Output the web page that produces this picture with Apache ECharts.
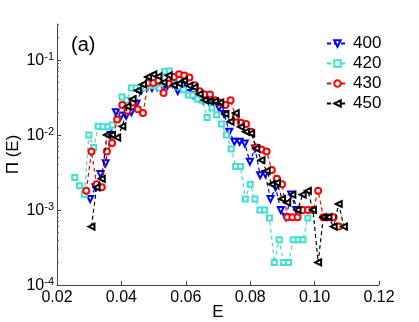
<!DOCTYPE html>
<html><head><meta charset="utf-8">
<script src="https://cdn.jsdelivr.net/npm/echarts@6/dist/echarts.min.js"></script>
<style>html,body{margin:0;padding:0;background:#fff}#c{width:419px;height:322px}</style>
</head><body><div id="c"></div>
<script>
const seriesNames = ['400', '420', '430', '450'];

const x400 = [0.0303,0.0319,0.0335,0.0351,0.0367,0.0383,0.0399,0.0415,0.0431,0.0447,0.0463,0.0479,0.0495,0.0511,0.0527,0.0543,0.0559,0.0575,0.0591,0.0607,0.0623,0.0639,0.0655,0.0671,0.0687,0.0703,0.0719,0.0735,0.0751,0.0767,0.0783,0.0799,0.0815,0.0831,0.0847,0.0863,0.0879,0.0895,0.0911,0.0927,0.0943];
const y400 = [1.4e-3,2.0e-3,3.0e-3,4.2e-3,1.0e-2,2.0e-2,1.8e-2,1.8e-2,2.0e-2,2.6e-2,4.0e-2,4.3e-2,4.2e-2,4.3e-2,4.0e-2,4.5e-2,4.8e-2,3.85e-2,4.5e-2,3.6e-2,3.4e-2,3.1e-2,2.8e-2,2.8e-2,2.75e-2,2.3e-2,1.9e-2,1.1e-2,8.1e-3,8.1e-3,7.7e-3,4.4e-3,6.6e-3,2.9e-3,3.0e-3,1.4e-3,2.0e-3,1.0e-3,8.0e-4,1.6e-3,1.0e-3];

const x420 = [0.0255,0.0270,0.0285,0.0299,0.0314,0.0328,0.0343,0.0358,0.0372,0.0387,0.0402,0.0416,0.0431,0.0446,0.0460,0.0475,0.0490,0.0504,0.0519,0.0534,0.0549,0.0563,0.0578,0.0593,0.0608,0.0622,0.0637,0.0652,0.0666,0.0681,0.0696,0.0711,0.0726,0.0741,0.0755,0.0770,0.0785,0.0800,0.0815,0.0830,0.0845,0.0860,0.0875,0.0890,0.0904,0.0919,0.0934,0.0949,0.0964,0.0979];
const y420 = [2.7e-3,2.1e-3,1.6e-3,1.0e-2,6.8e-3,1.3e-2,1.28e-2,1.28e-2,1.35e-2,1.6e-2,3.2e-2,2.9e-2,4.2e-2,4.2e-2,4.3e-2,4.2e-2,4.5e-2,4.5e-2,4.2e-2,7.0e-2,7.1e-2,4.8e-2,4.4e-2,4.0e-2,3.4e-2,3.4e-2,3.0e-2,2.9e-2,1.7e-2,2.3e-2,1.85e-2,1.4e-2,1.0e-2,6.5e-3,3.8e-3,3.8e-3,1.4e-3,2.2e-3,1.4e-3,1.0e-3,1.0e-3,7.8e-4,2.0e-4,4.0e-4,2.0e-4,2.0e-4,4.0e-4,4.0e-4,4.0e-4,7.8e-4];

const x430 = [0.0291,0.0307,0.0323,0.0339,0.0355,0.0371,0.0387,0.0403,0.0419,0.0435,0.0451,0.0467,0.0483,0.0499,0.0515,0.0531,0.0547,0.0563,0.0579,0.0595,0.0611,0.0627,0.0643,0.0659,0.0675,0.0691,0.0707,0.0723,0.0739,0.0755,0.0771,0.0787,0.0803,0.0819,0.0835,0.0851,0.0867,0.0883,0.0899,0.0915,0.0931,0.0947,0.0963,0.0979,0.0995,0.1011,0.1027,0.1043,0.1059,0.1075];
const y430 = [1.8e-3,6.0e-3,2.2e-3,2.0e-3,6.0e-3,7.8e-3,1.6e-2,2.5e-2,2.1e-2,2.7e-2,2.2e-2,1.95e-2,4.9e-2,4.9e-2,5.3e-2,3.6e-2,4.8e-2,5.9e-2,6.4e-2,6.2e-2,5.8e-2,4.6e-2,3.8e-2,3.45e-2,3.45e-2,2.9e-2,2.7e-2,2.5e-2,2.9e-2,1.75e-2,1.45e-2,1.4e-2,1.1e-2,6.8e-3,6.4e-3,6.0e-3,3.4e-3,2.6e-3,2.2e-3,8.0e-4,8.0e-4,8.0e-4,1.0e-3,1.0e-3,1.0e-3,1.8e-3,8.0e-4,8.0e-4,8.0e-4,6.0e-4];

const x450 = [0.0307,0.0323,0.0339,0.0355,0.0371,0.0387,0.0403,0.0419,0.0435,0.0451,0.0467,0.0483,0.0499,0.0515,0.0531,0.0547,0.0563,0.0579,0.0595,0.0611,0.0627,0.0643,0.0659,0.0675,0.0691,0.0707,0.0723,0.0739,0.0755,0.0771,0.0787,0.0803,0.0819,0.0835,0.0851,0.0867,0.0883,0.0899,0.0915,0.0931,0.0947,0.0963,0.0979,0.0995,0.1011,0.1027,0.1043,0.1059,0.1075,0.1091];
const y450 = [6.0e-4,2.0e-3,2.6e-3,1.0e-2,1.0e-2,9.2e-3,1.3e-2,2.4e-2,3.0e-2,3.9e-2,4.7e-2,5.9e-2,6.4e-2,6.0e-2,5.0e-2,6.2e-2,4.6e-2,4.8e-2,5.3e-2,4.5e-2,4.3e-2,3.5e-2,2.9e-2,2.8e-2,2.8e-2,2.7e-2,1.9e-2,1.5e-2,1.95e-2,1.28e-2,1.1e-2,1.05e-2,6.6e-3,4.6e-3,3.3e-3,2.2e-3,2.3e-3,1.4e-3,1.25e-3,1.6e-3,1.0e-3,1.6e-3,1.8e-3,1.0e-3,2.0e-4,8.0e-4,8.0e-4,6.0e-4,1.2e-3,6.0e-4];

const xTicks = [0.02, 0.04, 0.06, 0.08, 0.10, 0.12];
const yTicks = [1e-4, 1e-3, 1e-2, 1e-1];
const yMinorTicks = [2e-4,3e-4,4e-4,5e-4,6e-4,7e-4,8e-4,9e-4,2e-3,3e-3,4e-3,5e-3,6e-3,7e-3,8e-3,9e-3,2e-2,3e-2,4e-2,5e-2,6e-2,7e-2,8e-2,9e-2,0.2,0.3];

const FONT = '"Liberation Sans", Arial, Helvetica, sans-serif';
const chart = echarts.init(document.getElementById('c'), null, {renderer: 'canvas'});
function pairs(xs, ys) { return xs.map((x, i) => [x, ys[i]]); }
const xs = [x400, x420, x430, x450];
const ys = [y400, y420, y430, y450];
const looks = [
  {color: '#0000ff', symbol: 'emptyTriangle', rotate: 180, size: 6},
  {color: '#40e0d0', symbol: 'emptyRect', rotate: 0, size: 5},
  {color: '#ff0000', symbol: 'emptyCircle', rotate: 0, size: 6},
  {color: '#000000', symbol: 'emptyTriangle', rotate: 90, size: 6}
];

const series = seriesNames.map((name, k) => ({
  name: name,
  type: 'line',
  yAxisIndex: 0,
  data: pairs(xs[k], ys[k]),
  symbol: looks[k].symbol,
  symbolSize: looks[k].size,
  symbolRotate: looks[k].rotate,
  showAllSymbol: true,
  itemStyle: {color: looks[k].color, borderColor: looks[k].color, borderWidth: 1},
  lineStyle: {color: looks[k].color, width: 1.2, type: [4, 3]},
  emphasis: {disabled: true},
  animation: false,
  z: 2 + k
}));

chart.setOption({
  backgroundColor: '#fff',
  animation: false,
  grid: {left: 57, right: 40, top: 24, bottom: 37, outerBoundsMode: 'none', containLabel: false},
  xAxis: {
    type: 'value', min: 0.02, max: 0.12, interval: 0.02,
    name: 'E', nameLocation: 'middle', nameGap: 19, nameMoveOverlap: false,
    nameTextStyle: {fontFamily: FONT, fontSize: 17, color: '#000'},
    axisLine: {lineStyle: {color: '#444', width: 1}},
    axisTick: {inside: true, length: 4, lineStyle: {color: '#444'}},
    axisLabel: {fontFamily: FONT, fontSize: 16, color: '#000', margin: 5,
      formatter: v => v.toFixed(2)},
    splitLine: {show: false}
  },
  yAxis: [{
    type: 'log', logBase: 10, min: 1e-4, max: 0.3,
    name: 'Π (E)', nameLocation: 'middle', nameGap: 35, nameRotate: 90, nameMoveOverlap: false,
    nameTextStyle: {fontFamily: FONT, fontSize: 17, color: '#000'},
    axisLine: {show: true, lineStyle: {color: '#444', width: 1}},
    axisTick: {inside: true, length: 4, customValues: yTicks, lineStyle: {color: '#444'}},
    axisLabel: {
      customValues: yTicks, margin: 3, color: '#000', fontFamily: FONT, fontSize: 16,
      formatter: v => '{b|10}{s|' + Math.round(Math.log10(v)) + '}',
      rich: {
        b: {fontFamily: FONT, fontSize: 16, color: '#000', lineHeight: 17, padding: [8, 0, 0, 0], verticalAlign: 'bottom'},
        s: {fontFamily: FONT, fontSize: 11, color: '#000', lineHeight: 12, verticalAlign: 'top'}
      }
    },
    splitLine: {show: false}
  }, {
    type: 'log', logBase: 10, min: 1e-4, max: 0.3, position: 'left',
    axisLine: {show: false},
    axisTick: {show: true, inside: true, length: 2, customValues: yMinorTicks, lineStyle: {color: '#666'}},
    axisLabel: {show: false},
    splitLine: {show: false}
  }],
  legend: {
    orient: 'vertical', left: 321, top: 30,
    itemWidth: 21, itemHeight: 8, itemGap: 3,
    textStyle: {fontFamily: FONT, fontSize: 17, lineHeight: 16, color: '#000'},
    data: seriesNames,
    selectedMode: false
  },
  graphic: [{
    type: 'text', left: 71, top: 35,
    style: {text: '(a)', font: '20px ' + FONT, fill: '#000'}
  }],
  series: series
});
</script>
</body></html>
